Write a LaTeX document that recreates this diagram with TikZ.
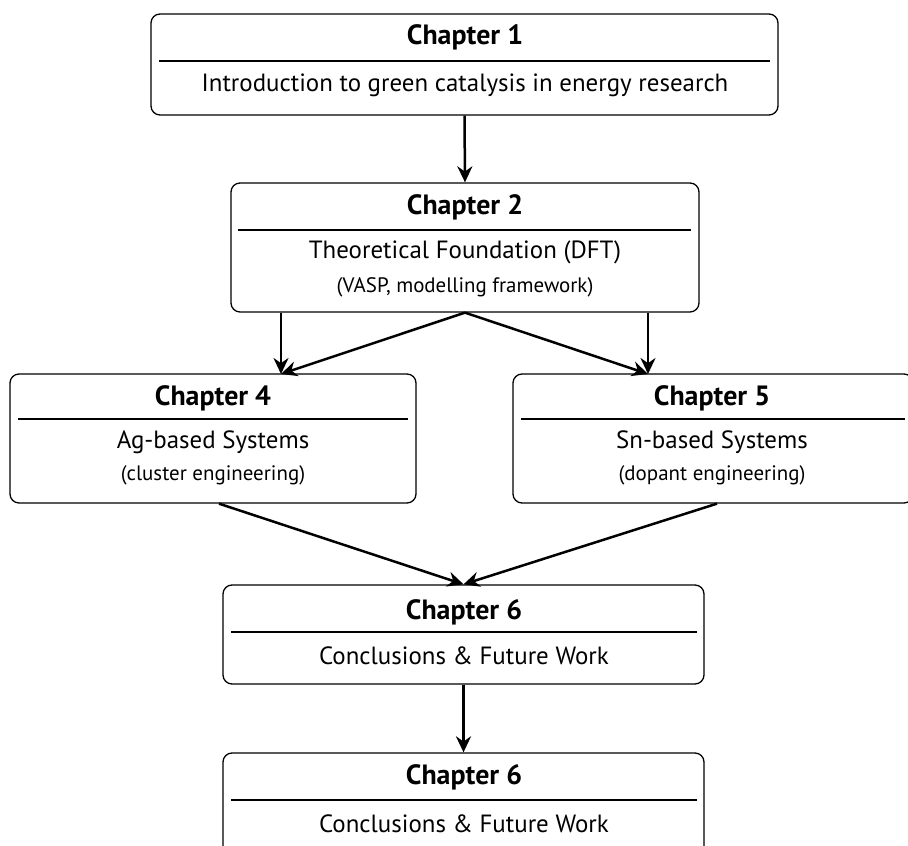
\documentclass[tikz,border=0pt]{standalone}
\usepackage{fontspec}
\setmainfont{PT Sans}
\usetikzlibrary{arrows.meta,calc}
\tikzset{
  chapbox/.style={draw, rounded corners=9bp, line width=1.3bp, inner sep=0pt},
  chaptitle/.style={font=\fontsize{28}{31}\selectfont\bfseries, inner sep=0pt},
  chapbody/.style={font=\fontsize{25}{28}\selectfont, inner sep=0pt},
  chapsub/.style={font=\fontsize{21}{24}\selectfont, inner sep=0pt},
  chaprule/.style={line width=1.3bp},
  flow/.style={->, line width=2.5bp}
}
\begin{document}
\begin{tikzpicture}[>={Stealth[length=16bp,width=15bp]},line join=miter]
\useasboundingbox (0bp,0bp) rectangle (908bp,846bp);
%%
  % Node: ch1
  \node[chapbox, minimum width=627bp, minimum height=101bp] (ch1) at (464.5bp,781.5bp) {};
  \node[chaptitle] (t1) at (465bp,809bp) {Chapter 1};
  \draw[chaprule] ($(ch1.west)+(9bp,3.5bp)$) -- ($(ch1.east)+(-9bp,3.5bp)$);
  \node[chapbody] (b1) at (465bp,761bp) {Introduction to green catalysis in energy research};
  % Node: ch2
  \node[chapbox, minimum width=468bp, minimum height=129bp] (ch2) at (465bp,598.5bp) {};
  \node[chaptitle] (t2) at (465bp,639bp) {Chapter 2};
  \draw[chaprule] ($(ch2.west)+(8bp,17.5bp)$) -- ($(ch2.east)+(-9bp,17.5bp)$);
  \node[chapbody] (b2) at (465bp,594bp) {Theoretical Foundation (DFT)};
  \node[chapsub] (s2) at (465bp,559bp) {(VASP, modelling framework)};
  % Node: ch4
  \node[chapbox, minimum width=406bp, minimum height=129bp] (ch4) at (213bp,407.5bp) {};
  \node[chaptitle] (t4) at (213bp,448bp) {Chapter 4};
  \draw[chaprule] ($(ch4.west)+(9bp,19.5bp)$) -- ($(ch4.east)+(-9bp,19.5bp)$);
  \node[chapbody] (b4) at (213bp,404bp) {Ag-based Systems};
  \node[chapsub] (s4) at (213bp,371bp) {(cluster engineering)};
  % Node: ch5
  \node[chapbox, minimum width=400bp, minimum height=129bp] (ch5) at (713bp,407.5bp) {};
  \node[chaptitle] (t5) at (712bp,448bp) {Chapter 5};
  \draw[chaprule] ($(ch5.west)+(9bp,19.5bp)$) -- ($(ch5.east)+(-9bp,19.5bp)$);
  \node[chapbody] (b5) at (712bp,404bp) {Sn-based Systems};
  \node[chapsub] (s5) at (712bp,371bp) {(dopant engineering)};
  % Node: ch6
  \node[chapbox, minimum width=481bp, minimum height=99bp] (ch6) at (463.5bp,211.5bp) {};
  \node[chaptitle] (t6) at (464bp,234bp) {Chapter 6};
  \draw[chaprule] ($(ch6.west)+(9bp,2.5bp)$) -- ($(ch6.east)+(-8bp,2.5bp)$);
  \node[chapbody] (b6) at (464bp,190bp) {Conclusions \& Future Work};
  % Node: ch6b
  \node[chapbox, minimum width=481bp, minimum height=103bp] (ch6b) at (463.5bp,41.5bp) {};
  \node[chaptitle] (t6b) at (464bp,69bp) {Chapter 6};
  \draw[chaprule] ($(ch6b.west)+(9bp,4.5bp)$) -- ($(ch6b.east)+(-8bp,4.5bp)$);
  \node[chapbody] (b6b) at (464bp,22bp) {Conclusions \& Future Work};
%%
  \coordinate (in4) at (281bp,472bp);
  \coordinate (in5) at (648bp,472bp);
  % Edge: ch1 -> ch2
  \draw[flow] (ch1.south) -- (ch2.north);
  % Edge: ch2 -> ch4
  \draw[flow] (in4 |- ch2.south) -- (in4);
  \draw[flow] (ch2.south) -- (in4);
  % Edge: ch2 -> ch5
  \draw[flow] (in5 |- ch2.south) -- (in5);
  \draw[flow] (ch2.south) -- (in5);
  % Edge: ch4 -> ch6
  \draw[flow] ($(ch4.south)+(6bp,0)$) -- (ch6.north);
  % Edge: ch5 -> ch6
  \draw[flow] ($(ch5.south)+(4bp,0)$) -- (ch6.north);
  % Edge: ch6 -> ch6b
  \draw[flow] (ch6.south) -- (ch6b.north);
%
\end{tikzpicture}
\end{document}
